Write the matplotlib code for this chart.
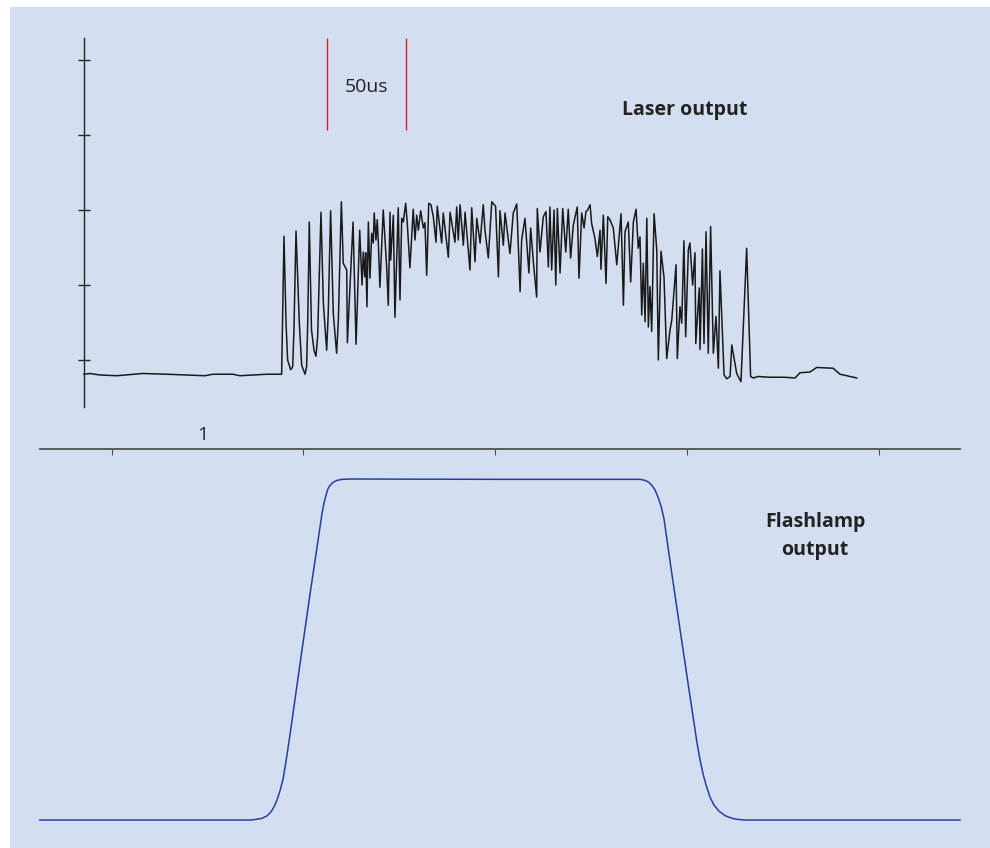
import matplotlib
matplotlib.use("Agg")
import matplotlib.pyplot as plt

plt.rcParams['font.family'] = ['Open Sans', 'DejaVu Sans']

# laser output: time (us, from the left axis) and amplitude (axis divisions)
laser_t = [0, 3.8, 10.1, 20.9, 37.3, 52.5, 76.6, 81.6, 94.3, 98.7,
           115.8, 125.1, 126.6, 127.9, 128.9, 130.8, 132.1, 132.9, 134.2, 136.3,
           137.8, 139.9, 140.9, 141.6, 142.6, 144.0, 145.6, 146.8, 147.9, 150.0,
           151.5, 153.6, 154.6, 156.1, 157.8, 159.9, 161.0, 162.9, 164.1, 166.3,
           166.7, 170.3, 172.2, 174.5, 176.0, 176.8, 177.7, 178.3, 179.1, 180.0,
           181.0, 182.1, 183.1, 183.7, 184.8, 185.6, 186.3, 187.3, 189.4, 191.6,
           192.6, 193.7, 194.1, 195.8, 196.8, 198.9, 200.0, 201.1, 202.1, 203.6,
           204.6, 206.3, 208.4, 209.5, 210.6, 211.6, 213.1, 214.8, 215.8, 216.9,
           218.2, 219.6, 221.1, 222.8, 223.6, 226.4, 227.4, 230.6, 231.7, 234.8,
           235.9, 236.9, 238.0, 240.1, 241.2, 244.3, 245.4, 247.5, 248.6, 250.7,
           252.7, 253.8, 255.9, 258.1, 260.5, 262.3, 263.3, 265.4, 266.5, 269.6,
           271.7, 273.9, 276.0, 277.0, 279.1, 281.6, 282.7, 284.4, 286.5, 286.9,
           288.6, 290.7, 292.4, 293.9, 294.9, 296.0, 297.5, 298.6, 299.6, 301.3,
           303.0, 304.9, 306.5, 308.0, 309.7, 312.2, 313.3, 315.0, 316.5, 317.7,
           318.8, 320.3, 321.3, 323.4, 324.9, 326.6, 327.2, 328.7, 330.4, 331.5,
           332.9, 335.0, 337.2, 339.9, 341.4, 342.4, 344.5, 346.0, 347.7, 349.4,
           350.8, 351.9, 353.0, 354.0, 355.1, 356.2, 357.2, 358.2, 359.3, 360.8,
           362.5, 363.5, 365.2, 367.1, 368.8, 370.9, 372.0, 374.7, 375.5, 377.2,
           378.3, 379.7, 380.8, 382.5, 383.5, 385.2, 386.7, 387.2, 389.4, 389.9,
           391.4, 392.4, 393.7, 395.1, 396.6, 398.3, 400.0, 401.5, 402.5, 405.1,
           406.8, 408.9, 410.0, 413.1, 415.8, 419.4, 421.9, 423.6, 426.8, 433.7,
           443.2, 450.0, 453.2, 459.5, 463.7, 474.1, 478.5, 489.1]
laser_a = [-0.19, -0.18, -0.20, -0.21, -0.18, -0.19, -0.21, -0.19, -0.19, -0.21,
           -0.19, -0.19, 1.65, 0.49, 0.00, -0.13, -0.09, 0.40, 1.72, 0.49,
           -0.07, -0.19, -0.09, 0.49, 1.84, 0.40, 0.13, 0.05, 0.31, 1.97,
           0.76, 0.13, 0.62, 1.99, 0.62, 0.09, 0.53, 2.11, 1.29, 1.20,
           0.23, 1.84, 0.21, 1.73, 1.00, 1.44, 1.11, 1.43, 0.71, 1.84,
           1.09, 1.69, 1.56, 1.96, 1.60, 1.87, 1.57, 0.97, 2.00, 1.23,
           0.73, 1.97, 1.33, 1.93, 0.57, 2.03, 0.80, 1.89, 1.84, 2.09,
           1.83, 1.23, 2.01, 1.60, 1.93, 1.73, 1.99, 1.76, 1.83, 1.13,
           2.09, 2.07, 1.91, 1.57, 2.05, 1.56, 1.96, 1.37, 1.97, 1.57,
           2.04, 1.60, 2.07, 1.53, 1.97, 1.20, 2.03, 1.31, 1.89, 1.56,
           2.07, 1.73, 1.36, 2.11, 2.05, 1.11, 1.99, 1.53, 1.96, 1.42,
           1.96, 2.08, 0.91, 1.60, 1.89, 1.16, 1.76, 1.31, 0.84, 2.02,
           1.44, 1.91, 1.98, 1.24, 2.04, 1.20, 2.00, 1.00, 2.02, 1.16,
           2.02, 1.44, 2.01, 1.36, 1.80, 2.04, 1.09, 1.96, 1.76, 1.98,
           2.00, 2.07, 1.82, 1.62, 1.38, 1.73, 1.21, 1.93, 1.02, 1.91,
           1.87, 1.76, 1.27, 1.95, 0.73, 1.71, 1.84, 1.04, 1.84, 2.01,
           1.49, 1.64, 0.60, 1.29, 0.51, 1.89, 0.44, 0.98, 0.38, 1.95,
           1.47, 0.00, 1.45, 1.10, 0.02, 0.40, 0.53, 1.27, 0.02, 0.71,
           0.49, 1.59, 0.31, 1.47, 1.56, 1.00, 1.43, 0.22, 0.96, 0.14,
           1.48, 0.22, 1.71, 0.09, 1.78, 0.09, 0.58, -0.11, 1.19, -0.20,
           -0.25, -0.22, 0.20, -0.18, -0.29, 1.49, -0.22, -0.24, -0.22, -0.23,
           -0.23, -0.24, -0.17, -0.16, -0.10, -0.11, -0.19, -0.24]

# flashlamp output: time (us) and percent of peak
flash_t = [-27.9, 105.1, 108.2, 112.7, 115.8, 118.4, 120.3, 122.2, 124.1, 126.0,
           127.8, 130.4, 136.7, 143.0, 149.4, 150.6, 151.9, 153.2, 154.4, 155.7,
           157.6, 160.1, 163.3, 168.4, 263.3, 351.9, 355.1, 357.6, 359.5, 361.4,
           363.3, 365.2, 367.1, 370.9, 377.2, 383.5, 388.0, 389.9, 391.8, 393.7,
           396.2, 398.7, 401.9, 405.7, 409.5, 413.3, 418.4, 554.4]
flash_p = [0, 0, 0.15, 0.5, 1.2, 2.4, 3.9, 5.9, 8.6, 12.0,
           17.0, 25.0, 45.7, 66.0, 85.9, 89.7, 92.9, 95.3, 97.1, 98.1,
           99.0, 99.6, 99.9, 100, 99.9, 99.9, 99.6, 99.0, 98.1, 96.8,
           94.7, 92.1, 88.3, 75.9, 56.0, 36.4, 22.6, 17.6, 13.5, 10.3,
           6.7, 4.4, 2.6, 1.3, 0.6, 0.2, 0, 0]

amp_ticks = [0, 1, 2, 3, 4]
div_ticks = [17.7, 138.6, 260.1, 381.6, 503.2]
marker_t = [153.8, 203.8]  # 50 us scale marker

bg = '#d3dff1'
ink = '#222222'

fig = plt.figure(figsize=(9.9, 8.48), dpi=100, facecolor='white')
ax1 = fig.add_axes([10 / 990, 399 / 848, 980 / 990, 442 / 848], facecolor=bg)
ax2 = fig.add_axes([10 / 990, 0, 980 / 990, 399 / 848], facecolor=bg)
ax1.set_zorder(2)  # keep the time axis ticks above the lower panel

xlim = (-46.8, 573.4)

# laser output
ax1.plot(laser_t, laser_a, color='#1a1a1a', lw=1.1)
ax1.set_xlim(xlim)
ax1.set_ylim(-1.187, 4.707)
for s in ['top', 'right']:
    ax1.spines[s].set_visible(False)
ax1.spines['left'].set_position(('data', 0))
ax1.spines['left'].set_bounds(-0.627, 4.3)
ax1.spines['left'].set_color(ink)
ax1.spines['left'].set_linewidth(1.0)
ax1.spines['bottom'].set_bounds(-27.9, 554.4)
ax1.spines['bottom'].set_color('#505050')
ax1.spines['bottom'].set_linewidth(1.3)
ax1.set_yticks(amp_ticks)
ax1.set_xticks(div_ticks)
ax1.tick_params(axis='y', direction='inout', length=8, width=1.0, color=ink, labelleft=False)
ax1.tick_params(axis='x', direction='out', length=4, width=0.8, color='#505050', labelbottom=False)

ax1.vlines(marker_t, 3.07, 4.29, color='#d0202a', lw=1.0)
ax1.text(sum(marker_t) / 2, 3.64, '50us', ha='center', va='center', fontsize=14, color=ink)
ax1.text(380.4, 3.33, 'Laser output', ha='center', va='center', fontsize=14,
         fontweight='bold', color=ink)
ax1.text(75.3, -1.0, '1', ha='center', va='center', fontsize=14, color=ink)

# flashlamp output
ax2.plot(flash_t, flash_p, color='#2a3d9c', lw=1.1)
ax2.set_xlim(xlim)
ax2.set_ylim(-8.2, 108.8)
for s in ax2.spines.values():
    s.set_visible(False)
ax2.set_xticks([])
ax2.set_yticks([])
ax2.text(462.7, 83.3, 'Flashlamp\noutput', ha='center', va='center', fontsize=14,
         fontweight='bold', color=ink, linespacing=1.5)

fig.savefig('out.png', dpi=100, facecolor='white')
